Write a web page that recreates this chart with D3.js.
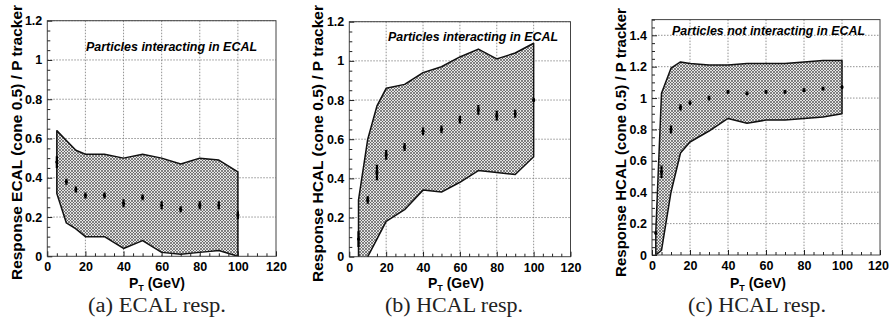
<!DOCTYPE html>
<html>
<head>
<meta charset="utf-8">
<script src="https://cdn.jsdelivr.net/npm/d3@7"></script>
<style>
  html, body { margin: 0; padding: 0; background: #fff; }
  svg { display: block; }
</style>
</head>
<body>
<svg id="chart" width="889" height="327"></svg>
<script>
// ---------- data ----------
const xTickValues = [0, 20, 40, 60, 80, 100, 120];
const yTicksAB = [0, 0.2, 0.4, 0.6, 0.8, 1.0, 1.2];
const yTicksC = [0, 0.2, 0.4, 0.6, 0.8, 1.0, 1.2, 1.4];

// (a) ECAL response, particles interacting in ECAL
const ecalX     = [5, 10, 15, 20, 30, 40, 50, 60, 70, 80, 90, 100];
const ecalMean  = [0.48, 0.38, 0.34, 0.31, 0.31, 0.27, 0.30, 0.26, 0.24, 0.26, 0.26, 0.21];
const ecalErr   = [0.03, 0.015, 0.015, 0.015, 0.015, 0.02, 0.015, 0.02, 0.015, 0.02, 0.02, 0.02];
const ecalUpper = [0.64, 0.59, 0.54, 0.52, 0.52, 0.50, 0.52, 0.50, 0.47, 0.50, 0.49, 0.43];
const ecalLower = [0.32, 0.17, 0.14, 0.10, 0.10, 0.04, 0.08, 0.02, 0.01, 0.02, 0.03, 0.0];

// (b) HCAL response, particles interacting in ECAL
const hcalX     = [5, 10, 15, 20, 30, 40, 50, 60, 70, 80, 90, 100];
const hcalMean  = [0.09, 0.29, 0.43, 0.52, 0.56, 0.64, 0.65, 0.70, 0.75, 0.72, 0.73, 0.80];
const hcalErr   = [0.04, 0.02, 0.04, 0.025, 0.02, 0.02, 0.02, 0.02, 0.025, 0.025, 0.02, 0.01];
const hcalUpper = [0.29, 0.60, 0.77, 0.86, 0.88, 0.94, 0.97, 1.02, 1.06, 1.01, 1.04, 1.09];
const hcalLower = [-0.05, 0.0, 0.09, 0.18, 0.24, 0.34, 0.33, 0.38, 0.44, 0.43, 0.42, 0.51];

// (c) HCAL response, particles not interacting in ECAL
const nonX      = [2, 5, 10, 15, 20, 30, 40, 50, 60, 70, 80, 90, 100];
const nonMean   = [0.14, 0.53, 0.80, 0.94, 0.97, 1.00, 1.04, 1.03, 1.04, 1.04, 1.05, 1.06, 1.07];
const nonErr    = [0.01, 0.04, 0.025, 0.02, 0.015, 0.015, 0.012, 0.012, 0.012, 0.012, 0.012, 0.012, 0.012];
const nonUpper  = [0.15, 1.03, 1.19, 1.23, 1.22, 1.21, 1.21, 1.22, 1.22, 1.22, 1.23, 1.24, 1.24];
const nonLower  = [0.0, 0.03, 0.40, 0.65, 0.72, 0.79, 0.87, 0.84, 0.86, 0.86, 0.87, 0.88, 0.90];

const yLabels  = ["Response ECAL (cone 0.5) / P tracker",
                  "Response HCAL (cone 0.5) / P tracker",
                  "Response HCAL (cone 0.5) / P tracker"];
const titles   = ["Particles interacting in ECAL",
                  "Particles interacting in ECAL",
                  "Particles not interacting in ECAL"];
const captions = ["(a) ECAL resp.", "(b) HCAL resp.", "(c) HCAL resp."];

// ---------- layout ----------
const W = 889;
const panels = [
  { x: ecalX, mean: ecalMean, err: ecalErr, up: ecalUpper, lo: ecalLower,
    yMax: 1.2, yTicks: yTicksAB,
    left: 47.3, right: 276, top: 20.7, bottom: 256.3,
    ylabX: 16, ylabY: 142.5, ylabLen: 275, title: [86, 51], titleLen: 171, xlab: 157, cap: 157 },
  { x: hcalX, mean: hcalMean, err: hcalErr, up: hcalUpper, lo: hcalLower,
    yMax: 1.2, yTicks: yTicksAB,
    left: 349.3, right: 570.5, top: 21.7, bottom: 256.7,
    ylabX: 317, ylabY: 143.5, ylabLen: 277, title: [388, 41], titleLen: 170, xlab: 456, cap: 454 },
  { x: nonX, mean: nonMean, err: nonErr, up: nonUpper, lo: nonLower,
    yMax: 1.5, yTicks: yTicksC,
    left: 652, right: 880, top: 19.6, bottom: 255,
    ylabX: 620, ylabY: 142.5, ylabLen: 269, title: [672, 35], titleLen: 193, xlab: 758, cap: 757 }
];

const svg = d3.select("#chart");
const defs = svg.append("defs");

// cross-hatch pattern
const pat = defs.append("pattern")
  .attr("id", "hatch").attr("patternUnits", "userSpaceOnUse")
  .attr("width", 3).attr("height", 3);
pat.append("rect").attr("width", 3).attr("height", 3).attr("fill", "#e6e6e6");
pat.append("path").attr("d", "M0,0L3,3M-1,2L1,4M2,-1L4,1")
  .attr("stroke", "#4a4a4a").attr("stroke-width", 0.65);
pat.append("path").attr("d", "M0,3L3,0M-1,1L1,-1M2,4L4,2")
  .attr("stroke", "#4a4a4a").attr("stroke-width", 0.65);

const sans = "Liberation Sans, Arial, Helvetica, sans-serif";

panels.forEach((p, i) => {
  const x = d3.scaleLinear().domain([0, 120]).range([p.left, p.right]);
  const y = d3.scaleLinear().domain([0, p.yMax]).range([p.bottom, p.top]);
  const g = svg.append("g");

  const clipId = "clip" + i;
  defs.append("clipPath").attr("id", clipId).append("rect")
    .attr("x", p.left).attr("y", p.top)
    .attr("width", p.right - p.left).attr("height", p.bottom - p.top);

  // grid
  const gridG = g.append("g");
  xTickValues.filter(v => v > 0 && v < 120).forEach(v => {
    gridG.append("line").attr("x1", x(v)).attr("x2", x(v))
      .attr("y1", p.top).attr("y2", p.bottom)
      .attr("stroke", "#777").attr("stroke-width", 0.8).attr("stroke-dasharray", "1.5,1.5");
  });
  p.yTicks.filter(v => v > 0).forEach(v => {
    gridG.append("line").attr("y1", y(v)).attr("y2", y(v))
      .attr("x1", p.left).attr("x2", p.right)
      .attr("stroke", "#777").attr("stroke-width", 0.8).attr("stroke-dasharray", "1.5,1.5");
  });

  // band
  const rows = p.x.map((xv, k) => ({ x: xv, up: p.up[k], lo: p.lo[k], m: p.mean[k], e: p.err[k] }));
  const area = d3.area().x(d => x(d.x)).y0(d => y(d.lo)).y1(d => y(d.up));
  const bandG = g.append("g").attr("clip-path", `url(#${clipId})`);
  bandG.append("path").datum(rows).attr("d", area)
    .attr("fill", "url(#hatch)").attr("stroke", "#111").attr("stroke-width", 1.5)
    .attr("stroke-linejoin", "round");

  // points with error bars
  const ptG = g.append("g").attr("clip-path", `url(#${clipId})`);
  ptG.selectAll("line.err").data(rows).join("line")
    .attr("x1", d => x(d.x)).attr("x2", d => x(d.x))
    .attr("y1", d => y(d.m + d.e)).attr("y2", d => y(d.m - d.e))
    .attr("stroke", "#000").attr("stroke-width", 2.2);
  ptG.selectAll("circle").data(rows).join("circle")
    .attr("cx", d => x(d.x)).attr("cy", d => y(d.m)).attr("r", 1.6).attr("fill", "#000");

  // frame
  g.append("rect").attr("x", p.left).attr("y", p.top)
    .attr("width", p.right - p.left).attr("height", p.bottom - p.top)
    .attr("fill", "none").attr("stroke", "#444").attr("stroke-width", 1);

  // x axis (ticks inside)
  const xAxis = d3.axisBottom(x).tickValues(xTickValues).tickSize(-5).tickPadding(6)
    .tickFormat(d3.format("d"));
  const xg = g.append("g").attr("transform", `translate(0,${p.bottom})`).call(xAxis);
  xg.select(".domain").remove();
  xg.selectAll(".tick line").attr("stroke", "#222");
  xg.selectAll(".tick text").attr("font-family", sans).attr("font-weight", "bold")
    .attr("font-size", 12.5).attr("fill", "#000");
  // keep the last label inside the picture
  xg.selectAll(".tick text").each(function(d) {
    const bb = this.getBBox();
    const right = x(d) + bb.x + bb.width;
    if (right > W - 0.5) d3.select(this).attr("x", (W - 0.5) - right);
  });
  const xMinor = d3.range(0, 120.01, 5).filter(v => v % 20 !== 0);
  const xmg = g.append("g").attr("transform", `translate(0,${p.bottom})`)
    .call(d3.axisBottom(x).tickValues(xMinor).tickSize(-3).tickFormat(""));
  xmg.select(".domain").remove();
  xmg.selectAll(".tick line").attr("stroke", "#222");

  // y axis
  const yAxis = d3.axisLeft(y).tickValues(p.yTicks).tickSize(-5).tickPadding(5)
    .tickFormat(d => d === 0 ? "0" : (d === 1 ? "1" : d3.format(".1f")(d)));
  const yg = g.append("g").attr("transform", `translate(${p.left},0)`).call(yAxis);
  yg.select(".domain").remove();
  yg.selectAll(".tick line").attr("stroke", "#222");
  yg.selectAll(".tick text").attr("font-family", sans).attr("font-weight", "bold")
    .attr("font-size", 12.5).attr("fill", "#000");
  const yMinor = d3.range(0, p.yMax + 0.001, 0.05).filter(v => Math.abs(v / 0.2 - Math.round(v / 0.2)) > 0.01);
  const ymg = g.append("g").attr("transform", `translate(${p.left},0)`)
    .call(d3.axisLeft(y).tickValues(yMinor).tickSize(-3).tickFormat(""));
  ymg.select(".domain").remove();
  ymg.selectAll(".tick line").attr("stroke", "#222");

  // y label
  g.append("text")
    .attr("transform", `translate(${p.ylabX},${p.ylabY}) rotate(-90)`)
    .attr("text-anchor", "middle").attr("dominant-baseline", "central")
    .attr("font-family", sans).attr("font-weight", "bold").attr("font-size", 15)
    .attr("textLength", p.ylabLen).attr("lengthAdjust", "spacingAndGlyphs")
    .attr("fill", "#000").text(yLabels[i]);

  // x label P_T (GeV)
  const xl = g.append("text").attr("x", p.xlab).attr("y", 287.5)
    .attr("text-anchor", "middle")
    .attr("font-family", sans).attr("font-weight", "bold").attr("font-size", 14).attr("fill", "#000");
  xl.append("tspan").text("P");
  xl.append("tspan").attr("font-size", 9).attr("dy", 3).text("T");
  xl.append("tspan").attr("dy", -3).text(" (GeV)");

  // title
  g.append("text").attr("x", p.title[0]).attr("y", p.title[1])
    .attr("font-family", sans).attr("font-weight", "bold").attr("font-style", "italic")
    .attr("font-size", 12.4).attr("textLength", p.titleLen).attr("lengthAdjust", "spacingAndGlyphs")
    .attr("fill", "#000").text(titles[i]);

  // caption
  g.append("text").attr("x", p.cap).attr("y", 312)
    .attr("text-anchor", "middle")
    .attr("font-family", "Liberation Serif, DejaVu Serif, serif").attr("font-size", 20)
    .attr("textLength", 138).attr("lengthAdjust", "spacingAndGlyphs")
    .attr("fill", "#222").text(captions[i]);
});
</script>
</body>
</html>
